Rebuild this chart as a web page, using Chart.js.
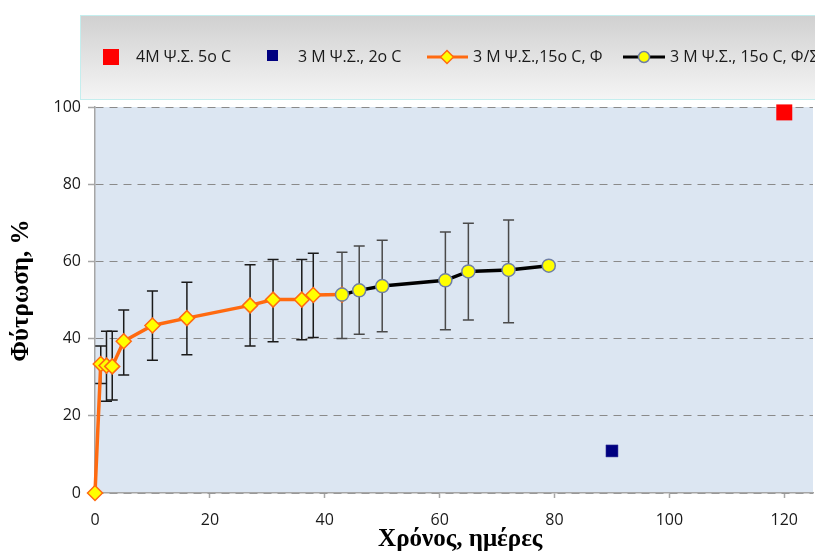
<!DOCTYPE html>
<html><head><meta charset="utf-8">
<script src="https://cdn.jsdelivr.net/npm/chart.js@4"></script>
<style>html,body{margin:0;padding:0;background:#fff;overflow:hidden}canvas{display:block}</style>
</head><body><canvas id="c" width="815" height="555"></canvas>
<script>
// ---- data ----
const labels = ['4M Ψ.Σ. 5o C', '3 M Ψ.Σ., 2o C', '3 M Ψ.Σ.,15o C, Φ', '3 M Ψ.Σ., 15o C, Φ/Σ'];
const xRed = [120];
const yRed = [98.6];
const xNavy = [90];
const yNavy = [10.9];
const xOrange = [0, 1, 2, 3, 5, 10, 16, 27, 31, 36, 38, 43];
const yOrange = [0, 33.4, 33.0, 32.8, 39.3, 43.4, 45.3, 48.6, 50.1, 50.1, 51.3, 51.4];
const hiOrange = [null, 38.1, 41.9, 41.9, 47.4, 52.3, 54.6, 59.1, 60.5, 60.5, 62.1, null];
const loOrange = [null, 28.4, 23.8, 24.1, 30.6, 34.4, 35.8, 38.1, 39.2, 39.7, 40.3, null];
const xBlack = [43, 46, 50, 61, 65, 72, 79];
const yBlack = [51.4, 52.5, 53.6, 55.1, 57.4, 57.8, 58.9];
const hiBlack = [62.4, 64.0, 65.5, 67.6, 69.9, 70.7, null];
const loBlack = [40.0, 41.1, 41.8, 42.3, 44.8, 44.1, null];
const xTicks = [0, 20, 40, 60, 80, 100, 120];
const yTicks = [0, 20, 40, 60, 80, 100];
const xTitle = '\u00a0\u00a0Χρόνος, ημέρες';
const yTitle = '\u00a0\u00a0\u00a0Φύτρωση, %';

const pts = (xs, ys) => xs.map((x, i) => ({x: x, y: ys[i]}));

const tickFont = {family: "'Open Sans', sans-serif", size: 16};
const titleFont = {family: "'Liberation Serif', 'Times New Roman', serif", size: 25, weight: 'bold'};

const bgPlugin = {
  id: 'bg',
  beforeDraw(chart) {
    const {ctx, chartArea: a} = chart;
    ctx.save();
    ctx.fillStyle = '#dce6f2';
    ctx.fillRect(a.left, a.top, a.right - a.left, a.bottom - a.top);
    ctx.restore();
  }
};

const errPlugin = {
  id: 'errbars',
  beforeDatasetsDraw(chart) {
    const {ctx} = chart;
    const xs = chart.scales.x, ys = chart.scales.y;
    chart.data.datasets.forEach(ds => {
      if (!ds.errHi) return;
      ctx.save();
      ctx.strokeStyle = ds.errColor;
      ctx.lineWidth = 1.5;
      ds.data.forEach((p, i) => {
        const hi = ds.errHi[i], lo = ds.errLo[i];
        if (hi == null) return;
        const px = xs.getPixelForValue(p.x);
        const ph = ys.getPixelForValue(hi), pl = ys.getPixelForValue(lo);
        ctx.beginPath();
        ctx.moveTo(px, ph); ctx.lineTo(px, pl);
        ctx.moveTo(px - 5.5, ph); ctx.lineTo(px + 5.5, ph);
        ctx.moveTo(px - 5.5, pl); ctx.lineTo(px + 5.5, pl);
        ctx.stroke();
      });
      ctx.restore();
    });
  }
};

const legendPlugin = {
  id: 'customLegend',
  afterDraw(chart) {
    const {ctx} = chart;
    const ds = chart.data.datasets;
    ctx.save();
    const g = ctx.createLinearGradient(0, 15, 0, 100);
    g.addColorStop(0, '#d0d0d0');
    g.addColorStop(1, '#f5f5f5');
    ctx.fillStyle = g;
    ctx.fillRect(80, 15, 740, 85);
    ctx.strokeStyle = '#c4eeee';
    ctx.lineWidth = 1;
    ctx.strokeRect(80.5, 15.5, 740, 84);
    const cy = 57;
    ctx.font = "16px 'Open Sans', sans-serif";
    ctx.textBaseline = 'middle';
    ctx.textAlign = 'left';
    // item 1
    ctx.fillStyle = ds[0].backgroundColor;
    ctx.fillRect(103, 49, 16, 16);
    ctx.fillStyle = '#1a1a1a';
    ctx.fillText(ds[0].label, 136, cy);
    // item 2
    ctx.fillStyle = ds[1].backgroundColor;
    ctx.fillRect(267, 50, 11, 11);
    ctx.fillStyle = '#1a1a1a';
    ctx.fillText(ds[1].label, 298, cy);
    // item 3
    ctx.strokeStyle = ds[2].borderColor; ctx.lineWidth = 3;
    ctx.beginPath(); ctx.moveTo(427, cy); ctx.lineTo(468, cy); ctx.stroke();
    ctx.beginPath();
    ctx.moveTo(447 - 6.5, cy); ctx.lineTo(447, cy - 6.5); ctx.lineTo(447 + 6.5, cy); ctx.lineTo(447, cy + 6.5); ctx.closePath();
    ctx.fillStyle = ds[2].pointBackgroundColor; ctx.fill();
    ctx.strokeStyle = ds[2].pointBorderColor; ctx.lineWidth = 1.5; ctx.stroke();
    ctx.fillStyle = '#1a1a1a';
    ctx.fillText(ds[2].label, 473, cy);
    // item 4
    ctx.strokeStyle = ds[3].borderColor; ctx.lineWidth = 3;
    ctx.beginPath(); ctx.moveTo(623, cy); ctx.lineTo(665, cy); ctx.stroke();
    ctx.beginPath(); ctx.arc(644, cy, 5.5, 0, Math.PI * 2);
    ctx.fillStyle = ds[3].pointBackgroundColor; ctx.fill();
    ctx.strokeStyle = ds[3].pointBorderColor; ctx.lineWidth = 1.5; ctx.stroke();
    ctx.fillStyle = '#1a1a1a';
    ctx.fillText(ds[3].label, 670, cy);
    ctx.restore();
  }
};

new Chart(document.getElementById('c'), {
  type: 'scatter',
  data: {
    datasets: [
      {label: labels[0], data: pts(xRed, yRed), pointStyle: 'rect', pointRadius: 11.3,
       backgroundColor: '#ff0000', borderColor: '#ff0000', pointBorderWidth: 0, clip: false, order: 2},
      {label: labels[1], data: pts(xNavy, yNavy), pointStyle: 'rect', pointRadius: 8.5,
       backgroundColor: '#000080', borderColor: '#3a3a9a', pointBorderWidth: 0.5, clip: false, order: 2},
      {label: labels[2], data: pts(xOrange, yOrange), showLine: true, borderColor: '#ff6a10', borderWidth: 3.5,
       pointStyle: 'rectRot', pointRadius: 7.5, pointBackgroundColor: '#ffff00', pointBorderColor: '#ff6a10',
       pointBorderWidth: 1.5, backgroundColor: '#ffff00', clip: false, order: 1,
       errHi: hiOrange, errLo: loOrange, errColor: '#1a1a1a'},
      {label: labels[3], data: pts(xBlack, yBlack), showLine: true, borderColor: '#000000', borderWidth: 3.5,
       pointStyle: 'circle', pointRadius: 6.5, pointBackgroundColor: '#ffff00', pointBorderColor: '#6f7fa5',
       pointBorderWidth: 1.5, backgroundColor: '#ffff00', clip: false, order: 0,
       errHi: hiBlack, errLo: loBlack, errColor: '#4a4a4a'}
    ]
  },
  options: {
    responsive: false,
    devicePixelRatio: 1,
    animation: false,
    layout: {autoPadding: false, padding: {top: 107, left: 0, right: 2, bottom: 0}},
    plugins: {legend: {display: false}, tooltip: {enabled: false}},
    scales: {
      x: {
        type: 'linear', min: 0, max: 125,
        afterBuildTicks: s => { s.ticks = xTicks.map(v => ({value: v})); },
        afterFit: s => { s.height = 62; s.paddingLeft = 0; s.paddingRight = 0; },
        ticks: {font: tickFont, color: '#1a1a1a', padding: 13, maxRotation: 0},
        grid: {drawOnChartArea: false, drawTicks: true, tickLength: 5, tickColor: '#a6a6a6', tickWidth: 1.5},
        border: {color: '#a6a6a6', width: 1.5},
        title: {display: true, text: xTitle, font: titleFont, color: '#000', padding: {top: 0, bottom: 0}}
      },
      y: {
        type: 'linear', min: 0, max: 100,
        afterBuildTicks: s => { s.ticks = yTicks.map(v => ({value: v})); },
        afterFit: s => { s.width = 95; s.paddingTop = 0; s.paddingBottom = 0; },
        ticks: {font: tickFont, color: '#1a1a1a', padding: 7},
        grid: {color: '#8a8a8a', lineWidth: 1, drawTicks: true, tickLength: 7, tickColor: '#a6a6a6', tickWidth: 1.5},
        border: {color: '#a6a6a6', width: 1.5, dash: [8, 6]},
        title: {display: true, text: yTitle, font: titleFont, color: '#000', padding: {top: 7, bottom: 0}}
      }
    }
  },
  plugins: [bgPlugin, errPlugin, legendPlugin]
});
</script></body></html>
